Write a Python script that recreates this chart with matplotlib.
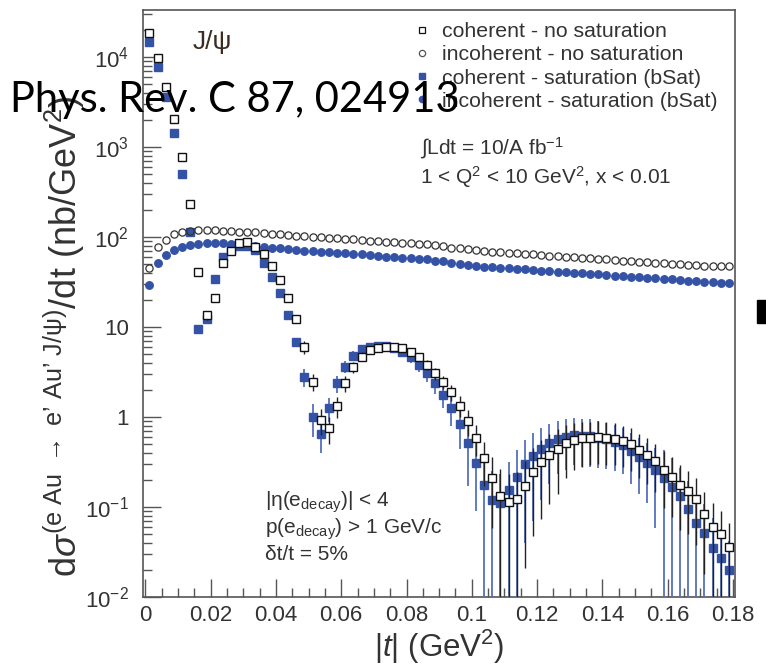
import numpy as np
import matplotlib
matplotlib.use('Agg')
import matplotlib.pyplot as plt
from matplotlib.lines import Line2D
from matplotlib.patches import Rectangle
from matplotlib.ticker import FixedLocator, LogLocator, MultipleLocator, NullFormatter

plt.rcParams['font.family'] = ['Liberation Sans', 'DejaVu Sans']
plt.rcParams['mathtext.fontset'] = 'custom'
plt.rcParams['mathtext.rm'] = 'Liberation Sans'
plt.rcParams['mathtext.it'] = 'Liberation Sans:italic'
plt.rcParams['mathtext.bf'] = 'Liberation Sans:bold'
plt.rcParams['mathtext.sf'] = 'Liberation Sans'

# |t| bin centres (GeV^2), bin width 0.0025
t = np.arange(0.00125, 0.18, 0.0025)

# coherent, no saturation (open squares)
coh_nosat = [18500, 9750, 4640, 2050, 775, 233, 41, 13.6, 21, 51,
             70, 86, 89, 78, 64, 48, 33, 20.9, 12.2, 6.0,
             2.47, 0.93, 0.75, 1.32, 2.37, 3.6, 4.7, 5.5, 5.8, 6.0,
             6.0, 5.8, 5.3, 4.7, 3.8, 3.06, 2.43, 1.88, 1.34, 0.91,
             0.59, 0.353, 0.208, 0.132, 0.113, 0.123, 0.171, 0.247, 0.314, 0.378,
             0.438, 0.51, 0.555, 0.58, 0.59, 0.6, 0.59, 0.57, 0.54, 0.5,
             0.43, 0.378, 0.327, 0.258, 0.217, 0.175, 0.15, 0.123, 0.083, 0.060,
             0.050, 0.036]
err_coh_nosat = [300, 200, 100, 50, 20, 6, 2, 1.5, 2, 3,
                 4, 4, 4, 4, 3, 2.5, 2, 1.5, 1.2, 1.0,
                 0.5, 0.3, 0.25, 0.35, 0.45, 0.5, 0.55, 0.55, 0.55, 0.55,
                 0.55, 0.55, 0.5, 0.5, 0.5, 0.45, 0.4, 0.38, 0.35, 0.3,
                 0.22, 0.18, 0.15, 0.13, 0.12, 0.12, 0.15, 0.2, 0.24, 0.27,
                 0.3, 0.3, 0.3, 0.3, 0.3, 0.3, 0.3, 0.28, 0.26, 0.25,
                 0.22, 0.2, 0.18, 0.16, 0.14, 0.12, 0.1, 0.085, 0.065, 0.05,
                 0.04, 0.03]

# incoherent, no saturation (open circles)
incoh_nosat = [45, 77, 92.6, 107, 113, 118, 120, 120, 120, 118,
               117, 115, 113, 113, 110, 108, 107, 105, 103.5, 102.6,
               100.9, 99.2, 98.4, 96.7, 95.1, 94.2, 92.6, 91.0, 90.3, 88.8,
               87.3, 86.5, 85.1, 83.6, 82.9, 81.0, 79.0, 76.1, 74.8, 72.9,
               71.7, 70.5, 68.7, 67.6, 67.0, 65.9, 64.7, 64.2, 63.1, 62.0,
               61.0, 60.4, 59.4, 58.9, 57.9, 57.0, 56.5, 55.5, 54.6, 54.1,
               53.2, 52.3, 51.9, 51.0, 50.1, 49.7, 49.3, 48.9, 48.0, 48.0,
               47.6, 47.3]

# coherent, saturation bSat (filled blue squares)
coh_sat = [14800, 7800, 3620, 1440, 498, 115, 9.5, 12.3, 34, 60,
           73, 79, 79, 72, 52, 36, 23.7, 13.6, 6.8, 2.8,
           1.0, 0.65, 1.25, 2.37, 3.6, 4.8, 5.65, 6.0, 6.2, 6.1,
           5.9, 5.3, 4.6, 3.8, 3.06, 2.37, 1.75, 1.25, 0.84, 0.52,
           0.31, 0.175, 0.12, 0.11, 0.155, 0.214, 0.30, 0.37, 0.44, 0.51,
           0.565, 0.60, 0.63, 0.62, 0.61, 0.59, 0.565, 0.53, 0.49, 0.42,
           0.36, 0.31, 0.258, 0.21, 0.168, 0.132, 0.094, 0.067, 0.052, 0.035,
           0.027, 0.020]
err_coh_sat = [250, 150, 80, 40, 15, 4, 1.0, 1.2, 2, 3,
               3, 3, 3, 3, 2.5, 2, 1.5, 1.2, 0.8, 0.65,
               0.4, 0.25, 0.36, 0.5, 0.55, 0.6, 0.6, 0.6, 0.6, 0.6,
               0.6, 0.6, 0.6, 0.6, 0.6, 0.55, 0.5, 0.45, 0.4, 0.35,
               0.22, 0.18, 0.13, 0.12, 0.16, 0.22, 0.26, 0.3, 0.32, 0.33,
               0.33, 0.34, 0.34, 0.34, 0.33, 0.32, 0.3, 0.28, 0.26, 0.24,
               0.22, 0.2, 0.2, 0.22, 0.18, 0.14, 0.1, 0.07, 0.055, 0.04,
               0.03, 0.022]

# incoherent, saturation bSat (filled blue circles)
incoh_sat = [29.3, 51, 63.1, 71.7, 78.1, 81.5, 83.6, 85.1, 85.1, 85.1,
             83.6, 83.6, 81.5, 80.1, 78.1, 76.1, 74.8, 72.9, 71.7, 70.5,
             69.8, 68.7, 67.6, 67.0, 65.9, 64.7, 64.2, 63.1, 62.0, 60.4,
             59.4, 58.9, 57.9, 57.0, 56.5, 54.5, 53.5, 52.0, 50.1, 48.9,
             48.0, 46.8, 46.0, 45.6, 44.8, 44.1, 43.7, 43.0, 42.2, 41.9,
             41.2, 40.5, 40.1, 39.5, 38.8, 38.5, 37.8, 37.2, 36.9, 36.3,
             35.6, 35.3, 34.7, 34.2, 33.9, 33.3, 32.7, 32.5, 31.9, 31.4,
             31.1, 30.6]

labels = ['coherent - no saturation', 'incoherent - no saturation',
          'coherent - saturation (bSat)', 'incoherent - saturation (bSat)']
xticks = [0, 0.02, 0.04, 0.06, 0.08, 0.1, 0.12, 0.14, 0.16, 0.18]
xticklabels = ['0', '0.02', '0.04', '0.06', '0.08', '0.1', '0.12', '0.14', '0.16', '0.18']
yticks = [1e-2, 1e-1, 1, 10, 1e2, 1e3, 1e4]
yticklabels = [r'10$^{-2}$', r'10$^{-1}$', '1', '10', r'10$^{2}$', r'10$^{3}$', r'10$^{4}$']

blue = '#3553a6'
blue_err = '#5570bd'
txt = '#333333'


def asym(vals, errs):
    v = np.array(vals)
    e = np.array(errs)
    lo = np.minimum(e, v - 1e-5)
    return [lo, e]


fig = plt.figure(figsize=(7.66, 6.70), dpi=100)
ax = fig.add_axes([0.1867, 0.109, 0.7728, 0.876])
ax.set_yscale('log')

ax.errorbar(t, coh_sat, yerr=asym(coh_sat, err_coh_sat), fmt='s', ms=5.5,
            mfc=blue, mec=blue, ecolor=blue_err, elinewidth=1.3, capsize=0, zorder=3)
ax.plot(t, incoh_sat, 'o', ms=5.4, color=blue, zorder=3)
ax.plot(t, incoh_nosat, 'o', ms=5.2, mfc='none', mec='#333333', mew=0.9, zorder=4)
ax.errorbar(t, coh_nosat, yerr=asym(coh_nosat, err_coh_nosat), fmt='s', ms=6,
            mfc='white', mec='#111111', mew=1.0, ecolor='#222222', elinewidth=1.0,
            capsize=0, zorder=5)

ax.set_xlim(-0.0007, 0.1806)
ax.set_ylim(0.01, 33300)

ax.xaxis.set_major_locator(FixedLocator(xticks))
ax.set_xticklabels(xticklabels)
ax.xaxis.set_minor_locator(MultipleLocator(0.005))
ax.yaxis.set_major_locator(FixedLocator(yticks))
ax.set_yticklabels(yticklabels)
ax.yaxis.set_minor_locator(LogLocator(base=10, subs=np.arange(2, 10)))
ax.yaxis.set_minor_formatter(NullFormatter())

ax.tick_params(which='both', direction='in', top=False, right=False,
               colors='#555555', labelcolor=txt, labelsize=16)
ax.tick_params(which='major', length=13, width=1.0)
ax.tick_params(which='minor', length=6.5, width=1.0)
ax.tick_params(axis='x', pad=6)
ax.tick_params(axis='y', pad=10)
for s in ax.spines.values():
    s.set_color('#555555')
    s.set_linewidth(1.2)

handles = [Line2D([], [], marker='s', ls='none', ms=4.5, mfc='white', mec='#111111', mew=0.9),
           Line2D([], [], marker='o', ls='none', ms=4.5, mfc='none', mec='#555555', mew=0.9),
           Line2D([], [], marker='s', ls='none', ms=4.5, mfc=blue, mec=blue),
           Line2D([], [], marker='o', ls='none', ms=4.5, mfc=blue, mec=blue)]
ax.legend(handles, labels, loc='upper left', bbox_to_anchor=(415.5 / 766, 1 - 22 / 670),
          bbox_transform=fig.transFigure, frameon=False, fontsize=15.3,
          handlelength=0.6, handletextpad=0.65, labelspacing=0.2,
          borderpad=0, borderaxespad=0, labelcolor=txt)

fig.text(420 / 766, 1 - 148 / 670, u'\u222bLdt = 10/A fb$^{-1}$', fontsize=15,
         color=txt, va='center')
fig.text(420 / 766, 1 - 177 / 670, r'1 < Q$^2$ < 10 GeV$^2$, x < 0.01', fontsize=15,
         color=txt, va='center')
fig.text(193 / 766, 1 - 42 / 670, u'J/\u03c8', fontsize=19, color='#3a2c22', va='center')

fig.text(265 / 766, 1 - 502 / 670, u'|\u03b7(e$_{\\mathrm{decay}}$)| < 4', fontsize=15,
         color=txt, va='center')
fig.text(265 / 766, 1 - 529 / 670, r'p(e$_{\mathrm{decay}}$) > 1 GeV/c', fontsize=15,
         color=txt, va='center')
fig.text(265 / 766, 1 - 555 / 670, u'\u03b4t/t = 5%', fontsize=15, color=txt, va='center')

fig.text(439 / 766, 1 - 647 / 670, r'|$t$| (GeV$^2$)', fontsize=22.5, color=txt,
         ha='center', va='center')
fig.text(64 / 766, 1 - 337 / 670,
         u"d$\\sigma^{\\mathrm{(e\\ Au\\ \\rightarrow\\ e\u2019\\ Au\u2019\\ J/\\psi)}}$/dt (nb/GeV$^2$)",
         fontsize=26, color=txt, rotation=90, ha='center', va='center')

fig.text(10 / 766, 1 - 112 / 670, 'Phys. Rev. C 87, 024913', fontsize=30,
         family='Lato', color='black', va='baseline', zorder=10)

fig.patches.append(Rectangle((757 / 766, 1 - 323 / 670), 9 / 766, 23 / 670,
                             transform=fig.transFigure, color='black', figure=fig))

fig.savefig('out.png', dpi=100)
